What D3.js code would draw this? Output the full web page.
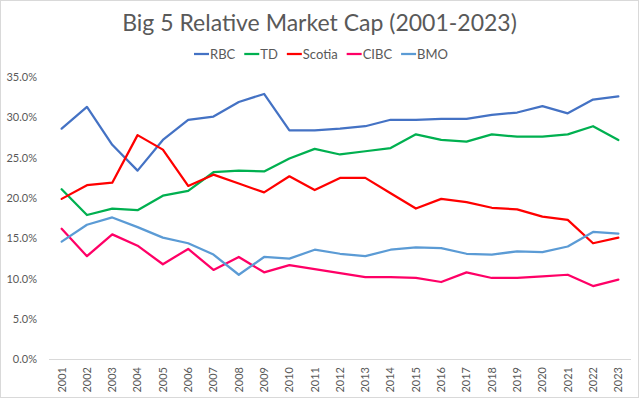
<!DOCTYPE html>
<html>
<head>
<meta charset="utf-8">
<script src="https://cdn.jsdelivr.net/npm/d3@7"></script>
<style>
  body { margin: 0; background: #fff; }
  text { font-family: Lato, "Liberation Sans", sans-serif; fill: #595959; }
</style>
</head>
<body>
<div id="chart"></div>
<script>
var years = d3.range(2001, 2024).map(String);

var seriesNames = ["RBC", "TD", "Scotia", "CIBC", "BMO"];
var seriesColors = ["#4472C4", "#00B050", "#FF0000", "#FF0066", "#5B9BD5"];

// values in percent
var rbc = [28.6, 31.3, 26.6, 23.4, 27.2, 29.7, 30.1, 31.9, 32.9, 28.4, 28.4, 28.6,
           28.9, 29.7, 29.7, 29.8, 29.8, 30.3, 30.6, 31.4, 30.5, 32.2, 32.6];
var td = [21.1, 17.9, 18.7, 18.5, 20.3, 20.9, 23.2, 23.4, 23.3, 24.9, 26.1, 25.4,
          25.8, 26.2, 27.9, 27.2, 27.0, 27.9, 27.6, 27.6, 27.9, 28.9, 27.2];
var scotia = [19.9, 21.6, 21.9, 27.8, 26.0, 21.5, 22.9, 21.8, 20.7, 22.7, 21.0, 22.5,
              22.5, 20.6, 18.7, 19.9, 19.5, 18.8, 18.6, 17.7, 17.3, 14.4, 15.1];
var cibc = [16.2, 12.8, 15.5, 14.1, 11.8, 13.7, 11.1, 12.7, 10.8, 11.7, 11.2, 10.7,
            10.2, 10.2, 10.1, 9.6, 10.8, 10.1, 10.1, 10.3, 10.5, 9.1, 9.9];
var bmo = [14.6, 16.7, 17.6, 16.4, 15.1, 14.4, 13.0, 10.5, 12.7, 12.5, 13.6, 13.1,
           12.8, 13.6, 13.9, 13.8, 13.1, 13.0, 13.4, 13.3, 14.0, 15.8, 15.6];

var yTicks = [0, 5, 10, 15, 20, 25, 30, 35];

var width = 640, height = 399;
var series = [rbc, td, scotia, cibc, bmo].map(function(vals, i) {
    return { name: seriesNames[i], color: seriesColors[i], values: vals };
});

var svg = d3.select("#chart").append("svg")
    .attr("width", width)
    .attr("height", height);

// chart area border
svg.append("rect")
    .attr("x", 0.5).attr("y", 0.5)
    .attr("width", width - 2).attr("height", height - 2)
    .attr("fill", "#fff")
    .attr("stroke", "#d9d9d9");

var x = d3.scaleBand()
    .domain(years)
    .range([49, 631])
    .padding(0);

var y = d3.scaleLinear()
    .domain([0, 35])
    .range([359.5, 77]);

// title
svg.append("text")
    .attr("x", 319.5)
    .attr("y", 30.5)
    .attr("text-anchor", "middle")
    .style("font-size", "23px")
    .text("Big 5 Relative Market Cap (2001-2023)");

// legend - laid out from measured text widths, centred
var legend = svg.append("g").attr("class", "legend");
var items = legend.selectAll("g")
    .data(series)
    .enter().append("g");

items.append("line")
    .attr("x1", 0).attr("x2", 15)
    .attr("stroke", function(d) { return d.color; })
    .attr("stroke-width", 2.25);

items.append("text")
    .attr("x", 16)
    .attr("y", 4.5)
    .style("font-size", "13px")
    .text(function(d) { return d.name; });

var pos = 0;
items.each(function() {
    var w = 16 + d3.select(this).select("text").node().getComputedTextLength();
    d3.select(this).attr("transform", "translate(" + pos + ",0)");
    pos += w + 9;
});
legend.attr("transform", "translate(" + (321 - (pos - 9) / 2) + ",54)");

// y axis labels (no axis line)
svg.selectAll(".ylab")
    .data(yTicks)
    .enter().append("text")
    .attr("class", "ylab")
    .attr("x", 37)
    .attr("y", function(d) { return y(d); })
    .attr("dy", "0.35em")
    .attr("text-anchor", "end")
    .style("font-size", "11px")
    .text(function(d) { return d.toFixed(1) + "%"; });

// baseline
svg.append("line")
    .attr("x1", 49).attr("x2", 631)
    .attr("y1", y(0)).attr("y2", y(0))
    .attr("stroke", "#d9d9d9")
    .attr("stroke-width", 1);

// x labels rotated
svg.selectAll(".xlab")
    .data(years)
    .enter().append("text")
    .attr("class", "xlab")
    .attr("transform", function(d) {
        return "translate(" + (x(d) + x.bandwidth() / 2) + ",367) rotate(-90)";
    })
    .attr("dy", "0.35em")
    .attr("text-anchor", "end")
    .style("font-size", "11px")
    .text(function(d) { return d; });

var line = d3.line()
    .x(function(d, i) { return x(years[i]) + x.bandwidth() / 2; })
    .y(function(d) { return y(d); });

svg.selectAll(".series")
    .data(series)
    .enter().append("path")
    .attr("class", "series")
    .attr("d", function(d) { return line(d.values); })
    .attr("fill", "none")
    .attr("stroke", function(d) { return d.color; })
    .attr("stroke-width", 2.25)
    .attr("stroke-linejoin", "round")
    .attr("stroke-linecap", "round");
</script>
</body>
</html>
